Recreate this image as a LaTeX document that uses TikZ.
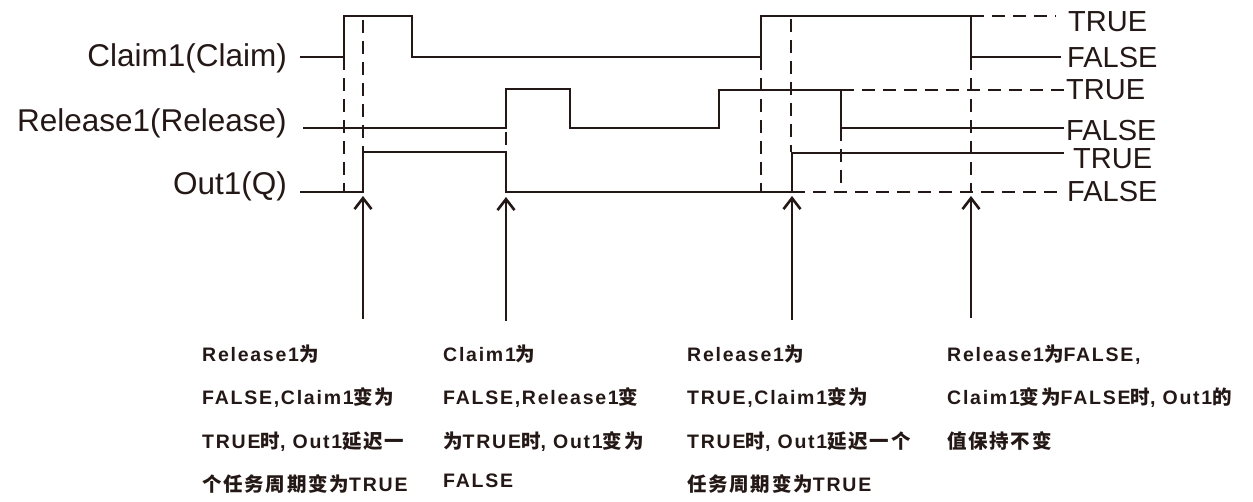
\documentclass[tikz,border=0pt]{standalone}
\usepackage{fontspec}
\setmainfont{Liberation Sans}
\newfontfamily\latb{Liberation Sans}[LetterSpace=9]
\newfontfamily\cjk{Noto Sans CJK SC}[LetterSpace=9]
\usetikzlibrary{arrows.meta}
\definecolor{ink}{HTML}{231815}
\newcommand\zh[1]{{\cjk\bfseries #1}}
\tikzset{
  wave/.style={draw=ink,line width=2.6pt,line join=miter},
  dsh/.style={draw=ink,line width=2.6pt,dash pattern=on 13pt off 8pt},
  arr/.style={draw=ink,line width=2.6pt,-{Straight Barb[length=11pt,width=17pt,line width=2.6pt]}},
  sig/.style={inner sep=0pt,text=ink,font=\fontsize{31.5}{36}\selectfont,anchor=base east},
  lvl/.style={inner sep=0pt,text=ink,font=\fontsize{29}{34}\selectfont,anchor=base west},
  note/.style={inner sep=0pt,text=ink,font=\fontsize{19.5}{22}\selectfont\latb\bfseries,anchor=base west}
}
\begin{document}
\begin{tikzpicture}[x=1pt,y=-1pt]
\useasboundingbox (0,0) rectangle (1253,502);
% signal names
\node[sig] (nc) at (287,67) {Claim1(Claim)};
\node[sig] (nr) at (287,132) {Release1(Release)};
\node[sig] (no) at (287,195) {Out1(Q)};
% level labels
\node[lvl] (ct) at (1068,32) {TRUE};
\node[lvl] (cf) at (1067,68) {FALSE};
\node[lvl] (rt) at (1066,100) {TRUE};
\node[lvl] (rf) at (1066,141) {FALSE};
\node[lvl] (ot) at (1073,169) {TRUE};
\node[lvl] (of) at (1067,202) {FALSE};
% dashed guides
\draw[dsh] (344,57) -- (344,192);
\draw[dsh] (363,20) -- (363,152);
\draw[dsh] (506,132) -- (506,148);
\draw[dsh] (761,57) -- (761,192);
\draw[dsh] (791,19) -- (791,152);
\draw[dsh] (841,128) -- (841,192);
\draw[dsh] (971,57) -- (971,192);
\draw[dsh] (971,16) -- (1056,16);
\draw[dsh] (841,90) -- (1064,90);
\draw[dsh] (792,192) -- (1064,192);
% waveforms
\draw[wave] (300,57) -- (344,57) -- (344,16) -- (412,16) -- (412,57) -- (761,57) -- (761,16) -- (971,16) -- (971,57) -- (1061,57);
\draw[wave] (303,128) -- (506,128) -- (506,89) -- (570,89) -- (570,128) -- (719,128) -- (719,90) -- (841,90) -- (841,128) -- (1064,128);
\draw[wave] (300,192) -- (363,192) -- (363,152) -- (506,152) -- (506,192) -- (792,192) -- (792,153) -- (1064,153);
% arrows
\coordinate (a1b) at (363,319); \coordinate (a1t) at (363,196);
\coordinate (a2b) at (506,321); \coordinate (a2t) at (506,197);
\coordinate (a3b) at (792,320); \coordinate (a3t) at (792,196);
\coordinate (a4b) at (971,318); \coordinate (a4t) at (971,196);
\draw[arr] (a1b) -- (a1t);
\draw[arr] (a2b) -- (a2t);
\draw[arr] (a3b) -- (a3t);
\draw[arr] (a4b) -- (a4t);
% notes column 1
\node[note] (n11) at (202,362) {Release1\zh{为}};
\node[note] (n12) at (202,405) {FALSE,Claim1\zh{变为}};
\node[note] (n13) at (202,448) {TRUE\zh{时}, Out1\zh{延迟一}};
\node[note] (n14) at (202,491) {\zh{个任务周期变为}TRUE};
% column 2
\node[note] (n21) at (443,362) {Claim1\zh{为}};
\node[note] (n22) at (443,405) {FALSE,Release1\zh{变}};
\node[note] (n23) at (443,448) {\zh{为}TRUE\zh{时}, Out1\zh{变为}};
\node[note] (n24) at (443,487) {FALSE};
% column 3
\node[note] (n31) at (687,362) {Release1\zh{为}};
\node[note] (n32) at (687,405) {TRUE,Claim1\zh{变为}};
\node[note] (n33) at (687,448) {TRUE\zh{时}, Out1\zh{延迟一个}};
\node[note] (n34) at (687,491) {\zh{任务周期变为}TRUE};
% column 4
\node[note] (n41) at (947,362) {Release1\zh{为}FALSE,};
\node[note] (n42) at (947,405) {Claim1\zh{变为}FALSE\zh{时}, Out1\zh{的}};
\node[note] (n43) at (947,448) {\zh{值保持不变}};
\end{tikzpicture}
\end{document}
